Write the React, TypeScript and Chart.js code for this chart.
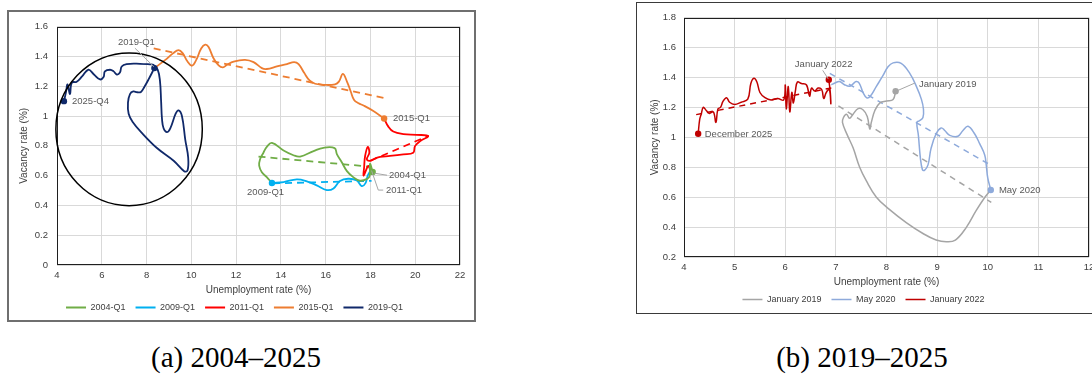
import React, { useEffect, useRef } from 'react';
import { Chart, registerables } from 'chart.js';

Chart.register(...registerables);

// ---------------- Panel (a): 2004–2025 ----------------
const leftXTicks = [4, 6, 8, 10, 12, 14, 16, 18, 20, 22];
const leftYTicks = [0, 0.2, 0.4, 0.6, 0.8, 1, 1.2, 1.4, 1.6];
const leftSeriesLabels = ['2004-Q1', '2009-Q1', '2011-Q1', '2015-Q1', '2019-Q1'];

const path2004 = [
  [18.1, 0.625], [17.98, 0.68], [17.97, 0.6], [17.85, 0.578], [17.53, 0.566], [17.23, 0.59],
  [16.95, 0.63], [16.72, 0.69], [16.5, 0.745], [16.4, 0.785], [15.9, 0.787], [15.46, 0.765],
  [14.86, 0.728], [14.56, 0.737], [14.12, 0.769], [13.6, 0.82], [13.37, 0.793], [13.22, 0.754],
  [13.07, 0.71], [13.03, 0.667], [13.15, 0.623], [13.37, 0.59], [13.6, 0.551],
];
const path2009 = [
  [13.6, 0.551], [14.12, 0.557], [14.71, 0.575], [15.16, 0.562], [15.6, 0.535], [16.05, 0.503],
  [16.35, 0.514], [16.64, 0.564], [17.0, 0.579], [17.39, 0.568], [17.61, 0.53], [17.78, 0.55],
  [17.88, 0.601], [18.0, 0.634],
];
const path2011 = [
  [18.0, 0.634], [17.9, 0.665], [17.7, 0.6], [17.72, 0.66], [17.76, 0.73], [17.88, 0.793],
  [17.95, 0.754], [17.84, 0.71], [17.99, 0.7], [18.2, 0.715], [18.43, 0.726], [18.87, 0.732],
  [19.47, 0.743], [19.91, 0.754], [19.99, 0.798], [20.21, 0.831], [20.58, 0.866], [20.06, 0.874],
  [19.47, 0.879], [19.02, 0.896], [18.8, 0.929], [18.61, 0.984],
];
const path2015 = [
  [18.61, 0.984], [18.13, 1.034], [17.69, 1.071], [17.47, 1.086], [17.27, 1.108], [17.12, 1.165],
  [16.97, 1.224], [16.77, 1.283], [16.59, 1.231], [16.42, 1.213], [15.98, 1.209], [15.53, 1.217],
  [15.28, 1.239], [15.04, 1.29], [14.79, 1.349], [14.59, 1.362], [14.27, 1.349], [13.82, 1.333],
  [13.37, 1.316], [13.15, 1.322], [12.78, 1.362], [12.4, 1.377], [11.89, 1.366], [11.59, 1.344],
  [11.41, 1.327], [11.22, 1.34], [10.99, 1.388], [10.77, 1.464], [10.62, 1.48], [10.44, 1.454],
  [10.22, 1.377], [10.03, 1.338], [9.83, 1.366], [9.62, 1.421], [9.43, 1.443], [9.18, 1.421],
  [8.84, 1.377], [8.35, 1.322],
];
const path2019 = [
  [8.35, 1.322], [8.09, 1.246], [7.9, 1.195], [7.75, 1.162], [7.58, 1.16], [7.41, 1.165],
  [7.26, 1.148], [7.17, 1.09], [7.2, 1.015], [7.38, 0.96], [7.8, 0.885], [8.45, 0.787],
  [9.21, 0.7], [9.68, 0.63], [9.83, 0.634], [9.86, 0.72], [9.73, 0.84], [9.58, 1.0],
  [9.43, 1.038], [9.3, 1.016], [9.06, 0.918], [8.91, 0.892], [8.76, 0.918], [8.69, 0.98],
  [8.65, 1.1], [8.6, 1.235], [8.5, 1.31], [8.3, 1.344], [8.15, 1.347], [7.71, 1.351],
  [7.11, 1.349], [6.89, 1.333], [6.81, 1.292], [6.67, 1.279], [6.53, 1.3], [6.37, 1.311],
  [6.14, 1.3], [6.08, 1.262], [5.92, 1.246], [5.65, 1.279], [5.4, 1.311], [5.12, 1.266],
  [4.88, 1.231], [4.66, 1.224], [4.58, 1.148], [4.47, 1.213], [4.4, 1.159], [4.31, 1.1],
];
const trend2004 = [[13.0, 0.728], [18.0, 0.66]];
const trend2009 = [[13.65, 0.548], [18.05, 0.565]];
const trend2011 = [[18.0, 0.7], [20.6, 0.868]];
const trend2015 = [[8.32, 1.454], [18.66, 1.119]];
const leftMarkers = [[18.1, 0.625], [13.6, 0.551], [18.61, 0.984], [8.35, 1.322], [4.31, 1.1]];
const leftNotes = [
  { text: '2019-Q1', x: 6.72, y: 1.495, leader: [[7.48, 1.456], [8.33, 1.331]] },
  { text: '2025-Q4', x: 4.67, y: 1.1 },
  { text: '2015-Q1', x: 19.01, y: 0.984 },
  { text: '2004-Q1', x: 18.83, y: 0.603, leader: [[18.18, 0.616], [18.74, 0.603]] },
  { text: '2011-Q1', x: 18.69, y: 0.498, leader: [[18.05, 0.634], [18.35, 0.503], [18.57, 0.503]] },
  { text: '2009-Q1', x: 12.49, y: 0.485 },
];
// highlight ellipse: centre x, centre y, radius x, radius y (data units)
const highlightEllipse = [7.22, 0.911, 3.27, 0.513];

// ---------------- Panel (b): 2019–2025 ----------------
const rightXTicks = [4, 5, 6, 7, 8, 9, 10, 11, 12];
const rightYTicks = [0.2, 0.4, 0.6, 0.8, 1, 1.2, 1.4, 1.6, 1.8];
const rightSeriesLabels = ['January 2019', 'May 2020', 'January 2022'];

const pathJan2019 = [
  [8.18, 1.308], [8.13, 1.253], [8.0, 1.243], [7.87, 1.231], [7.77, 1.18], [7.7, 1.1],
  [7.67, 1.056], [7.62, 1.14], [7.54, 1.183], [7.44, 1.192], [7.34, 1.155], [7.27, 1.127],
  [7.21, 1.155], [7.15, 1.133], [7.13, 1.1], [7.22, 1.02], [7.34, 0.93], [7.47, 0.8],
  [7.6, 0.71], [7.8, 0.6], [8.05, 0.52], [8.39, 0.43], [8.72, 0.357], [8.98, 0.314],
  [9.18, 0.302], [9.36, 0.313], [9.58, 0.4], [9.77, 0.51], [9.94, 0.598], [10.06, 0.648],
];
const pathMay2020 = [
  [10.06, 0.648], [10.0, 0.729], [9.97, 0.816], [9.94, 0.882], [9.84, 0.958], [9.74, 1.024],
  [9.61, 1.074], [9.51, 1.046], [9.41, 1.007], [9.25, 1.013], [9.15, 1.046], [9.08, 1.063],
  [8.98, 1.024], [8.88, 0.926], [8.82, 0.816], [8.75, 0.779], [8.71, 0.784], [8.67, 0.86],
  [8.63, 1.013], [8.6, 1.1], [8.65, 1.111], [8.72, 1.133], [8.73, 1.188], [8.69, 1.254],
  [8.59, 1.341], [8.46, 1.428], [8.29, 1.494], [8.13, 1.498], [8.03, 1.472], [7.92, 1.407],
  [7.8, 1.341], [7.68, 1.275], [7.61, 1.264], [7.54, 1.297], [7.46, 1.363], [7.4, 1.374],
  [7.34, 1.358], [7.27, 1.341], [7.17, 1.352], [7.07, 1.374], [6.98, 1.363], [6.91, 1.352],
];
const pathJan2022 = [
  [6.86, 1.385], [6.89, 1.3], [6.9, 1.225], [6.87, 1.32], [6.81, 1.3], [6.76, 1.26],
  [6.72, 1.32], [6.65, 1.33], [6.58, 1.31], [6.52, 1.33], [6.48, 1.275], [6.42, 1.35],
  [6.32, 1.36], [6.24, 1.37], [6.2, 1.31], [6.16, 1.23], [6.13, 1.3], [6.09, 1.17],
  [6.06, 1.34], [6.02, 1.19], [6.0, 1.35], [5.97, 1.25], [5.85, 1.26], [5.72, 1.25],
  [5.6, 1.265], [5.5, 1.3], [5.44, 1.37], [5.38, 1.395], [5.32, 1.36], [5.26, 1.255],
  [5.13, 1.235], [5.0, 1.22], [4.9, 1.235], [4.84, 1.265], [4.77, 1.24], [4.72, 1.2],
  [4.67, 1.19], [4.63, 1.1], [4.58, 1.17], [4.5, 1.16], [4.44, 1.18], [4.38, 1.2],
  [4.34, 1.155], [4.31, 1.12], [4.28, 1.024],
];
const trendJan2019 = [[7.05, 1.21], [10.07, 0.565]];
const trendMay2020 = [[6.88, 1.428], [10.04, 0.818]];
const trendJan2022 = [[4.24, 1.152], [6.91, 1.33]];
const rightMarkers = [[8.18, 1.308], [10.06, 0.648], [6.86, 1.385], [4.28, 1.024]];
const rightNotes = [
  { text: 'January 2022', x: 6.19, y: 1.487, leader: [[6.74, 1.448], [6.85, 1.39]] },
  { text: 'January 2019', x: 8.64, y: 1.356, leader: [[8.2, 1.31], [8.56, 1.363]] },
  { text: 'December 2025', x: 4.41, y: 1.022 },
  { text: 'May 2020', x: 10.22, y: 0.648 },
];

// ---------------- styling ----------------
const FONT = "'Liberation Sans', Arial, Helvetica, sans-serif";
const INK = '#404040';
const NOTE = '#595959';
const GRID = '#d9d9d9';
const leftColors = ['#70ad47', '#00b0f0', '#ff0000', '#ed7d31', '#10296a'];
const rightColors = ['#a5a5a5', '#8eaadb', '#c00000'];

const toXY = (a: number[][]) => a.map(([x, y]) => ({ x, y }));

function seriesDs(label: string, data: number[][], color: string, width: number) {
  return {
    label, data: toXY(data), borderColor: color, backgroundColor: color, borderWidth: width,
    showLine: true, pointRadius: 0, pointHoverRadius: 0, pointHitRadius: 0, tension: 0.4,
    fill: false, order: 1,
  };
}
function trendDs(data: number[][], color: string, width: number, dash: number[]) {
  return {
    label: '', data: toXY(data), borderColor: color, backgroundColor: color, borderWidth: width,
    borderDash: dash, showLine: true, pointRadius: 0, pointHoverRadius: 0, tension: 0,
    fill: false, order: 2,
  };
}
function markerDs(data: number[][], colors: string[], r: number) {
  return {
    label: '', data: toXY(data), showLine: false, pointRadius: r, pointHoverRadius: r,
    pointBackgroundColor: colors, pointBorderColor: colors, pointBorderWidth: 0, order: 0,
  };
}

type Note = { text: string; x: number; y: number; leader?: number[][] };

function overlay(notes: Note[], ellipse?: number[]) {
  return {
    id: 'overlay',
    afterDraw(chart: any) {
      const { ctx, chartArea: a, scales } = chart;
      const xs = scales.x;
      const ys = scales.y;
      ctx.save();
      ctx.strokeStyle = '#1f1f1f';
      ctx.lineWidth = 1;
      const l = Math.round(a.left) + 0.5;
      const t = Math.round(a.top) + 0.5;
      const r = Math.round(a.right) - 0.5;
      const b = Math.round(a.bottom) - 0.5;
      ctx.strokeRect(l, t, r - l, b - t);
      if (ellipse) {
        const [cx, cy, rx, ry] = ellipse;
        const px = xs.getPixelForValue(cx);
        const py = ys.getPixelForValue(cy);
        const prx = Math.abs(xs.getPixelForValue(cx + rx) - px);
        const pry = Math.abs(ys.getPixelForValue(cy + ry) - py);
        ctx.beginPath();
        ctx.ellipse(px, py, prx, pry, 0, 0, Math.PI * 2);
        ctx.strokeStyle = '#000';
        ctx.lineWidth = 1.5;
        ctx.stroke();
      }
      ctx.font = `9.5px ${FONT}`;
      ctx.textAlign = 'left';
      ctx.textBaseline = 'middle';
      notes.forEach((n) => {
        if (n.leader) {
          ctx.beginPath();
          n.leader.forEach(([x, y], i) => {
            const X = xs.getPixelForValue(x);
            const Y = ys.getPixelForValue(y);
            if (i === 0) ctx.moveTo(X, Y); else ctx.lineTo(X, Y);
          });
          ctx.strokeStyle = '#a6a6a6';
          ctx.lineWidth = 1;
          ctx.stroke();
        }
        ctx.fillStyle = NOTE;
        ctx.fillText(n.text, xs.getPixelForValue(n.x), ys.getPixelForValue(n.y));
      });
      ctx.restore();
    },
  };
}

function scalesFor(o: {
  xTicks: number[]; yTicks: number[]; yWidth: number; xHeight: number;
  yTitlePad: number; xTitleBottom: number; yTickPad: number;
}) {
  const tickFont = { family: FONT, size: 9.5 };
  const titleFont = { family: FONT, size: 10 };
  const fmt = { minimumFractionDigits: 0, maximumFractionDigits: 1 };
  return {
    x: {
      type: 'linear',
      min: o.xTicks[0],
      max: o.xTicks[o.xTicks.length - 1],
      afterBuildTicks: (s: any) => { s.ticks = o.xTicks.map((v) => ({ value: v })); },
      afterFit: (s: any) => { s.height = o.xHeight; },
      grid: { color: GRID, lineWidth: 1, drawTicks: false },
      border: { display: false },
      ticks: { padding: 5, color: INK, font: tickFont, maxRotation: 0, autoSkip: false, format: fmt },
      title: {
        display: true, text: 'Unemployment rate (%)', color: INK, font: titleFont,
        padding: { top: 0, bottom: o.xTitleBottom },
      },
    },
    y: {
      type: 'linear',
      min: o.yTicks[0],
      max: o.yTicks[o.yTicks.length - 1],
      afterBuildTicks: (s: any) => { s.ticks = o.yTicks.map((v) => ({ value: v })); },
      afterFit: (s: any) => { s.width = o.yWidth; },
      grid: { color: GRID, lineWidth: 1, drawTicks: false },
      border: { display: false },
      ticks: { padding: o.yTickPad, color: INK, font: tickFont, autoSkip: false, format: fmt },
      title: {
        display: true, text: 'Vacancy rate (%)', color: INK, font: titleFont,
        padding: { top: o.yTitlePad, bottom: 0 },
      },
    },
  };
}

function legendFor(labels: string[]) {
  return {
    position: 'bottom',
    labels: {
      boxWidth: 20, boxHeight: 0, padding: 10, color: INK,
      font: { family: FONT, size: 9 },
      filter: (item: any) => labels.includes(item.text),
    },
  };
}

function leftConfig(): any {
  return {
    type: 'scatter',
    data: {
      datasets: [
        markerDs(leftMarkers, [leftColors[0], leftColors[1], leftColors[3], leftColors[4], leftColors[4]], 3.2),
        seriesDs(leftSeriesLabels[0], path2004, leftColors[0], 1.8),
        seriesDs(leftSeriesLabels[1], path2009, leftColors[1], 1.8),
        seriesDs(leftSeriesLabels[2], path2011, leftColors[2], 1.8),
        seriesDs(leftSeriesLabels[3], path2015, leftColors[3], 1.8),
        seriesDs(leftSeriesLabels[4], path2019, leftColors[4], 1.8),
        trendDs(trend2004, leftColors[0], 1.8, [7, 5]),
        trendDs(trend2009, leftColors[1], 1.8, [7, 5]),
        trendDs(trend2011, leftColors[2], 1.8, [7, 5]),
        trendDs(trend2015, leftColors[3], 1.8, [7, 5]),
      ],
    },
    options: {
      responsive: false,
      animation: false,
      devicePixelRatio: 1,
      events: [],
      layout: { padding: { left: 0, right: 14, top: 9, bottom: 0 } },
      plugins: { legend: legendFor(leftSeriesLabels), tooltip: { enabled: false } },
      scales: scalesFor({
        xTicks: leftXTicks, yTicks: leftYTicks, yWidth: 48, xHeight: 28,
        yTitlePad: 9, xTitleBottom: -3, yTickPad: 9,
      }),
    },
    plugins: [overlay(leftNotes, highlightEllipse)],
  };
}

function rightConfig(): any {
  return {
    type: 'scatter',
    data: {
      datasets: [
        markerDs(rightMarkers, [rightColors[0], rightColors[1], rightColors[2], rightColors[2]], 3.2),
        seriesDs(rightSeriesLabels[0], pathJan2019, rightColors[0], 1.5),
        seriesDs(rightSeriesLabels[1], pathMay2020, rightColors[1], 1.5),
        seriesDs(rightSeriesLabels[2], pathJan2022, rightColors[2], 1.5),
        trendDs(trendJan2019, rightColors[0], 1.5, [6, 5]),
        trendDs(trendMay2020, rightColors[1], 1.5, [6, 5]),
        trendDs(trendJan2022, rightColors[2], 1.5, [6, 5]),
      ],
    },
    options: {
      responsive: false,
      animation: false,
      devicePixelRatio: 1,
      events: [],
      layout: { padding: { left: 0, right: 21, top: 9, bottom: 0 } },
      plugins: { legend: legendFor(rightSeriesLabels), tooltip: { enabled: false } },
      scales: scalesFor({
        xTicks: rightXTicks, yTicks: rightYTicks, yWidth: 46, xHeight: 28,
        yTitlePad: 11, xTitleBottom: -3.5, yTickPad: 8,
      }),
    },
    plugins: [overlay(rightNotes)],
  };
}

const captionStyle: React.CSSProperties = {
  position: 'absolute', top: 340, height: 34, lineHeight: '34px', width: 300,
  textAlign: 'center', fontFamily: "'Liberation Serif', 'DejaVu Serif', serif", fontSize: 29,
  color: '#000', whiteSpace: 'nowrap',
};

export default function App() {
  const leftRef = useRef<HTMLCanvasElement>(null);
  const rightRef = useRef<HTMLCanvasElement>(null);
  useEffect(() => {
    const c1 = new Chart(leftRef.current as HTMLCanvasElement, leftConfig());
    const c2 = new Chart(rightRef.current as HTMLCanvasElement, rightConfig());
    return () => { c1.destroy(); c2.destroy(); };
  }, []);
  return (
    <div style={{ position: 'fixed', left: 0, top: 0, width: 1092, height: 379, overflow: 'hidden', background: '#fff' }}>
      <canvas ref={leftRef} width={465} height={310} style={{ position: 'absolute', left: 9, top: 12, width: 465, height: 310 }} />
      <div style={{ position: 'absolute', left: 7, top: 10, width: 469, height: 312, boxSizing: 'border-box', border: '2px solid #6f6f6f', pointerEvents: 'none' }} />
      <canvas ref={rightRef} width={472} height={310} style={{ position: 'absolute', left: 638, top: 4, width: 472, height: 310 }} />
      <div style={{ position: 'absolute', left: 636, top: 2, width: 480, height: 312, boxSizing: 'border-box', border: '1.5px solid #3a3a3a', pointerEvents: 'none' }} />
      <div style={{ ...captionStyle, left: 86 }}>(a) 2004–2025</div>
      <div style={{ ...captionStyle, left: 712 }}>(b) 2019–2025</div>
    </div>
  );
}
